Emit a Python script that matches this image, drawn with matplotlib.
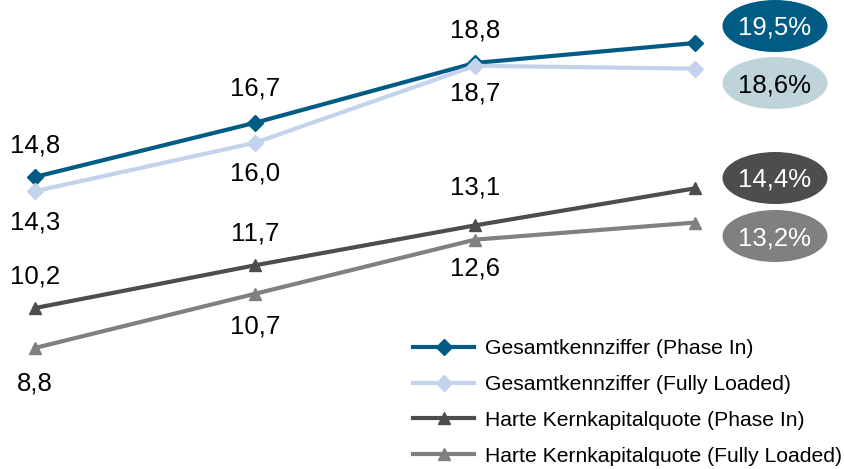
import matplotlib.pyplot as plt
from matplotlib.patches import Ellipse

# data
periods = [0, 1, 2, 3]
gesamt_phase_in = [14.8, 16.7, 18.8, 19.5]
gesamt_fully = [14.3, 16.0, 18.7, 18.6]
hart_phase_in = [10.2, 11.7, 13.1, 14.4]
hart_fully = [8.8, 10.7, 12.6, 13.2]
series_names = [
    "Gesamtkennziffer (Phase In)",
    "Gesamtkennziffer (Fully Loaded)",
    "Harte Kernkapitalquote (Phase In)",
    "Harte Kernkapitalquote (Fully Loaded)",
]

colors = ["#005c84", "#c3d3ec", "#4d4d4d", "#808080"]
bubble_colors = ["#005c84", "#bfd3db", "#4d4d4d", "#808080"]
bubble_text = ["white", "black", "white", "white"]
font = ["Liberation Sans", "DejaVu Sans"]

fig = plt.figure(figsize=(8.44, 4.69), dpi=100)
ax = fig.add_axes([0, 0, 1, 1])
ax.set_xlim(-35 / 220, (844 - 35) / 220)
ax.set_ylim(19.5 - (469 - 43) / 28.5, 19.5 + 43 / 28.5)
ax.axis("off")

all_series = [gesamt_phase_in, gesamt_fully, hart_phase_in, hart_fully]
markers = ["D", "D", "^", "^"]
msizes = [8, 8, 9, 9]
for vals, name, c, m, ms in zip(all_series, series_names, colors, markers, msizes):
    ax.plot(periods, vals, color=c, lw=3, marker=m, markersize=ms, label=name)

# value labels for the first three points, pixel offset above (+) / below (-)
label_offsets = [[32, 35, 33], [-30, -30, -27], [33, 33, 39], [-35, -32, -28]]
for vals, offs in zip(all_series, label_offsets):
    for x, v, off in zip(periods[:3], vals[:3], offs):
        ax.annotate(f"{v:.1f}".replace(".", ","), (x, v), xytext=(0, off - 1),
                    textcoords="offset pixels", ha="center", va="center",
                    fontsize=18.5, family=font)

# ellipses with the latest value
bubble_y = [1 - 26 / 469, 1 - 83 / 469, 1 - 178 / 469, 1 - 236 / 469]
for vals, y, fc, tc in zip(all_series, bubble_y, bubble_colors, bubble_text):
    ax.add_patch(Ellipse((775 / 844, y), 105 / 844, 52 / 469,
                         transform=ax.transAxes, facecolor=fc, edgecolor="none"))
    ax.text(775 / 844, y - 2 / 469, f"{vals[-1]:.1f}%".replace(".", ","),
            transform=ax.transAxes, ha="center", va="center",
            fontsize=18.5, color=tc, family=font)

ax.legend(loc="upper left", bbox_to_anchor=(413 / 844, 1 - 339 / 469), frameon=False,
          borderpad=0, borderaxespad=0, handlelength=2.9, handletextpad=0.5,
          labelspacing=0.8, prop={"family": font, "size": 15.2})

fig.savefig("out.png", dpi=100)
